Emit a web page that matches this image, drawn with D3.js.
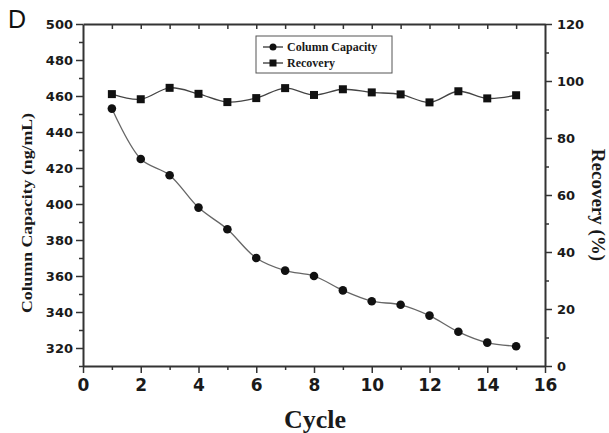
<!DOCTYPE html>
<meta charset="utf-8">
<head>
	<style>
		html, body { margin: 0; padding: 0; background: white; }
		.axis path, .axis line { stroke: #333; }
	</style>
	<script src="https://d3js.org/d3.v7.min.js"></script>
</head>
<body>
<script>

// DATA
var cycles = [1, 2, 3, 4, 5, 6, 7, 8, 9, 10, 11, 12, 13, 14, 15];
var capacity = [453, 425, 416, 398, 386, 370, 363, 360, 352, 346, 344, 338, 329, 323, 321];
var recovery = [95.4, 93.6, 97.6, 95.5, 92.6, 94.0, 97.5, 95.1, 97.1, 96.0, 95.3, 92.5, 96.4, 93.9, 95.0];
var xTicks = [0, 2, 4, 6, 8, 10, 12, 14, 16];
var leftTicks = [320, 340, 360, 380, 400, 420, 440, 460, 480, 500];
var rightTicks = [0, 20, 40, 60, 80, 100, 120];

// SETUP
var W = 609, H = 433,
	m = { top: 24, right: 64, bottom: 67, left: 83 },
	pw = W - m.left - m.right,
	ph = H - m.top - m.bottom;

var sans = '"DejaVu Sans", sans-serif',
	sansD = '"Liberation Sans", Arial, sans-serif',
	serif = '"Liberation Serif", "Times New Roman", serif';

var x = d3.scaleLinear().domain([0, 16]).range([0, pw]),
	yL = d3.scaleLinear().domain([310, 500]).range([ph, 0]),
	yR = d3.scaleLinear().domain([0, 120]).range([ph, 0]);

var svg = d3.select('body').append('svg')
	.attr('width', W).attr('height', H);

var g = svg.append('g').attr('transform', 'translate(' + m.left + ',' + m.top + ')');

function styleAxis(sel, size) {
	sel.select('.domain').attr('stroke-width', 2);
	sel.selectAll('.tick line').attr('stroke-width', 1.5);
	sel.selectAll('.tick text')
		.attr('font-family', sans)
		.attr('font-weight', 'bold')
		.attr('font-size', size)
		.attr('fill', '#1a1a1a');
}

function minor(s) {
	s.select('.domain').remove();
	s.selectAll('line').attr('stroke-width', 1.5);
}

// minor ticks
g.append('g').attr('class', 'axis')
	.attr('transform', 'translate(0,' + ph + ')')
	.call(d3.axisBottom(x).tickValues(d3.range(1, 16, 2)).tickSize(4).tickFormat(''))
	.call(minor);
g.append('g').attr('class', 'axis')
	.call(d3.axisLeft(yL).tickValues(d3.range(310, 500, 20)).tickSize(4).tickFormat(''))
	.call(minor);
g.append('g').attr('class', 'axis')
	.attr('transform', 'translate(' + pw + ',0)')
	.call(d3.axisRight(yR).tickValues(d3.range(10, 120, 20)).tickSize(4).tickFormat(''))
	.call(minor);

// top axis: inward ticks
g.append('g').attr('class', 'axis')
	.call(d3.axisTop(x).tickValues(d3.range(1, 16)).tickSize(-5).tickSizeOuter(0).tickFormat(''))
	.call(function(s) { styleAxis(s, 10); });

// main axes
g.append('g').attr('class', 'axis')
	.attr('transform', 'translate(0,' + ph + ')')
	.call(d3.axisBottom(x).tickValues(xTicks).tickSize(7).tickSizeOuter(0).tickPadding(6))
	.call(function(s) { styleAxis(s, 17); });

g.append('g').attr('class', 'axis')
	.call(d3.axisLeft(yL).tickValues(leftTicks).tickSize(7).tickSizeOuter(0).tickPadding(3))
	.call(function(s) { styleAxis(s, 13); });

g.append('g').attr('class', 'axis')
	.attr('transform', 'translate(' + pw + ',0)')
	.call(d3.axisRight(yR).tickValues(rightTicks).tickSize(7).tickSizeOuter(0).tickPadding(5))
	.call(function(s) { styleAxis(s, 13); });

// LINES
var capData = cycles.map(function(c, i) { return { c: c, v: capacity[i] }; });
var recData = cycles.map(function(c, i) { return { c: c, v: recovery[i] }; });

var capLine = d3.line().curve(d3.curveCatmullRom)
	.x(function(d) { return x(d.c); }).y(function(d) { return yL(d.v); });
var recLine = d3.line().curve(d3.curveCatmullRom)
	.x(function(d) { return x(d.c); }).y(function(d) { return yR(d.v); });

g.append('path').datum(capData).attr('d', capLine)
	.attr('fill', 'none').attr('stroke', '#666').attr('stroke-width', 1.3);
g.append('path').datum(recData).attr('d', recLine)
	.attr('fill', 'none').attr('stroke', '#444').attr('stroke-width', 1.3);

g.selectAll('.cap').data(capData).enter().append('circle')
	.attr('cx', function(d) { return x(d.c); })
	.attr('cy', function(d) { return yL(d.v); })
	.attr('r', 4.3).attr('fill', '#111');

g.selectAll('.rec').data(recData).enter().append('rect')
	.attr('x', function(d) { return x(d.c) - 4; })
	.attr('y', function(d) { return yR(d.v) - 4; })
	.attr('width', 8).attr('height', 8).attr('fill', '#111');

// LEGEND
var lg = svg.append('g').attr('transform', 'translate(256,36)');
lg.append('rect').attr('width', 136).attr('height', 37)
	.attr('fill', 'white').attr('stroke', '#555').attr('stroke-width', 1);
[['Column Capacity', 'c'], ['Recovery', 's']].forEach(function(e, i) {
	var yy = 11 + i * 16;
	lg.append('line').attr('x1', 7).attr('x2', 27).attr('y1', yy).attr('y2', yy)
		.attr('stroke', '#333').attr('stroke-width', 1.3);
	if (e[1] === 'c') lg.append('circle').attr('cx', 17).attr('cy', yy).attr('r', 3.5).attr('fill', '#111');
	else lg.append('rect').attr('x', 13.5).attr('y', yy - 3.5).attr('width', 7).attr('height', 7).attr('fill', '#111');
	lg.append('text').attr('x', 31).attr('y', yy + 4)
		.attr('font-family', serif).attr('font-weight', 'bold')
		.attr('font-size', 12).attr('fill', '#1a1a1a').text(e[0]);
});

// TITLES
function title(sel, size) {
	return sel.attr('text-anchor', 'middle')
		.attr('font-family', serif).attr('font-weight', 'bold')
		.attr('font-size', size).attr('fill', '#1a1a1a');
}

svg.append('text')
	.attr('transform', 'translate(32,213) rotate(-90)')
	.attr('textLength', 200).attr('lengthAdjust', 'spacingAndGlyphs')
	.call(title, 15).text('Column Capacity (ng/mL)');

svg.append('text')
	.attr('transform', 'translate(592,205) rotate(90)')
	.call(title, 19).text('Recovery (%)');

svg.append('text')
	.attr('x', 315).attr('y', 428)
	.call(title, 26).text('Cycle');

svg.append('text')
	.attr('x', 8).attr('y', 28)
	.attr('font-family', sansD)
	.attr('font-size', 25).attr('fill', '#111').text('D');

</script>
</body>
